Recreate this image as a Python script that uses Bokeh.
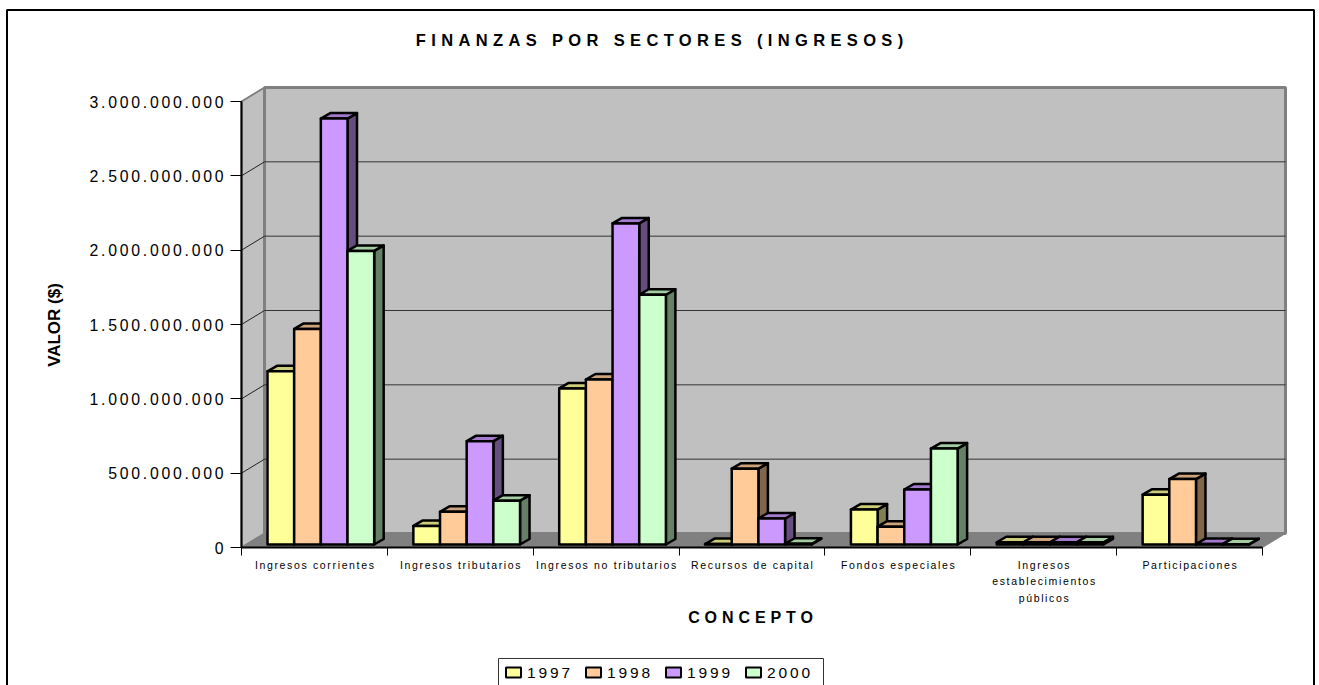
from bokeh.core.properties import value
from bokeh.document import Document
from bokeh.embed import file_html
from bokeh.models import CustomJS, FixedTicker
from bokeh.plotting import figure
from bokeh.resources import INLINE

categories = ["Ingresos corrientes", "Ingresos tributarios", "Ingresos no tributarios", "Recursos de capital",
              "Fondos especiales", "Ingresos\nestablecimientos\npúblicos", "Participaciones"]
series_names = ["1997", "1998", "1999", "2000"]
v1997 = [1165e6, 125e6, 1050e6, 3e6, 235e6, 15e6, 335e6]
v1998 = [1450e6, 220e6, 1110e6, 510e6, 120e6, 15e6, 440e6]
v1999 = [2865e6, 695e6, 2160e6, 175e6, 370e6, 15e6, 3e6]
v2000 = [1975e6, 295e6, 1680e6, 5e6, 645e6, 15e6, 2e6]
series = [v1997, v1998, v1999, v2000]
front = ["#FFFF99", "#FFCC99", "#CC99FF", "#CCFFCC"]
tops = ["#CCCC7A", "#CCA37A", "#A37ACC", "#A3CCA3"]
sides = ["#808050", "#80664D", "#664D80", "#668066"]
y_ticks = [0, 500000000, 1000000000, 1500000000, 2000000000, 2500000000, 3000000000]
y_labels = ["0", "500.000.000", "1.000.000.000", "1.500.000.000", "2.000.000.000", "2.500.000.000", "3.000.000.000"]

# pixel geometry of the page
W, H = 1319, 685
L, B, YTOP = 241, 547, 101
XR = 1262
UX = (XR - L) / 7                     # px per category
UY = (B - YTOP) / 3e9                 # px per value
px = lambda x: (x - L) / UX
py = lambda y: (B - y) / UY
wall_dx, wall_dy = 23 / UX, 14 / UY
bar_dx, bar_dy = 9.5 / UX, 5.5 / UY
base = 3.0 / UY
bar_off, bar_w = 26 / UX, 26.67 / UX

p = figure(width=W, height=H, output_backend="svg", toolbar_location=None,
           x_range=(px(0), px(W)), y_range=(py(H), py(0)),
           min_border=0, outline_line_color=None, background_fill_color="white", border_fill_color="white")
p.grid.visible = False

# outer frame
p.line([px(6.5), px(6.5), px(1313.5), px(1313.5)], [py(720), py(9.5), py(9.5), py(720)], line_color="black", line_width=2)

# walls and floor
p.patch([0, wall_dx, wall_dx, 0], [0, wall_dy, 3e9 + wall_dy, 3e9], fill_color="#C0C0C0", line_color="#808080", line_width=2)
p.patch([wall_dx, 7 + wall_dx, 7 + wall_dx, wall_dx], [wall_dy, wall_dy, 3e9 + wall_dy, 3e9 + wall_dy],
        fill_color="#C0C0C0", line_color="#808080", line_width=3)
p.patch([0, wall_dx, 7 + wall_dx, 7], [0, wall_dy, wall_dy, 0], fill_color="#808080", line_color="#808080")
gv = y_ticks[1:-1]
p.segment([wall_dx] * len(gv), [g + wall_dy for g in gv], [7 + wall_dx] * len(gv), [g + wall_dy for g in gv],
          line_color="#333333", line_width=1)
p.segment([0] * len(gv), gv, [wall_dx] * len(gv), [g + wall_dy for g in gv], line_color="#222222", line_width=1)

for s, vals in enumerate(series):
    fx, fy, tx, ty, sx, sy = [], [], [], [], [], []
    for i, v in enumerate(vals):
        x0 = i + bar_off + s * bar_w
        x1 = x0 + bar_w
        y1 = base + v
        fx.append([x0, x1, x1, x0]); fy.append([base, base, y1, y1])
        tx.append([x0, x1, x1 + bar_dx, x0 + bar_dx]); ty.append([y1, y1, y1 + bar_dy, y1 + bar_dy])
        sx.append([x1, x1 + bar_dx, x1 + bar_dx, x1]); sy.append([base, base + bar_dy, y1 + bar_dy, y1])
    p.patches(sx, sy, fill_color=sides[s], line_color="black", line_width=2.5, line_join="round")
    p.patches(tx, ty, fill_color=tops[s], line_color="black", line_width=2.5, line_join="round")
    p.patches(fx, fy, fill_color=front[s], line_color="black", line_width=2.5, line_join="round")

# axes
ya = p.yaxis[0]
ya.fixed_location = 0
ya.ticker = FixedTicker(ticks=y_ticks)
ya.major_label_overrides = dict(zip(y_ticks, y_labels))
ya.bounds = (0, 3e9)
ya.major_tick_in = 0; ya.major_tick_out = 11; ya.minor_tick_line_color = None
ya.major_label_standoff = 7
ya.major_label_text_font = "Liberation Sans"; ya.major_label_text_font_size = "15.8px"; ya.major_label_text_color = "black"
ya.axis_line_width = 2

xa = p.xaxis[0]
xa.fixed_location = 0
centers = [i + 0.5 for i in range(7)]
xa.ticker = FixedTicker(ticks=centers, minor_ticks=list(range(8)))
xa.major_label_overrides = dict(zip(centers, categories))
xa.bounds = (0, 7)
xa.major_tick_in = 0; xa.major_tick_out = 0
xa.major_tick_line_color = None
xa.minor_tick_in = 0; xa.minor_tick_out = 8; xa.minor_tick_line_color = "black"
xa.major_label_standoff = 3
xa.major_label_orientation = "horizontal"
xa.major_label_text_font = "Liberation Sans"; xa.major_label_text_font_size = "10.5px"; xa.major_label_text_color = "black"
xa.major_label_text_line_height = 1.4
xa.axis_line_width = 2

arial = value("Liberation Sans")
p.text([px(659)], [py(39)], text=["FINANZAS POR SECTORES (INGRESOS)"], text_font=arial, text_font_size="16.5px",
       text_font_style="bold", text_color="black", text_align="center", text_baseline="middle")
p.text([px(750)], [py(617)], text=["CONCEPTO"], text_font=arial, text_font_size="16px",
       text_font_style="bold", text_color="black", text_align="center", text_baseline="middle")
p.text([px(54)], [py(324.5)], text=["VALOR ($)"], text_font=arial, text_font_size="17px", angle=1.5708,
       text_font_style="bold", text_color="black", text_align="center", text_baseline="middle")

# legend
p.line([px(498), px(498), px(823), px(823)], [py(700), py(658), py(658), py(700)], line_color="#333333", line_width=1)
for s, name in enumerate(series_names):
    lx = 505.5 + 80 * s
    p.patch([px(lx), px(lx + 15), px(lx + 15), px(lx)], [py(677), py(677), py(667), py(667)],
            fill_color=front[s], line_color="black", line_width=2)
    p.text([px(lx + 21)], [py(672)], text=[name], text_font=arial, text_font_size="15.5px", text_color="black",
           text_align="left", text_baseline="middle")

# letter spacing of the texts, by font: [spacing, share of the extra width moved to the left]
spacing_js = """
const sp = {'16.5px':[5.35,.5],'15.8px':[2.75,1],'10.5px':[1.65,.5],'16px':[4.9,.5],'15.5px':[2.9,0]};
function walk(root){
  root.querySelectorAll('*').forEach(el=>{
    if(el.shadowRoot) walk(el.shadowRoot);
    if(el.tagName==='text'){
      const s = sp[el.getAttribute('font-size')];
      if(s!==undefined){
        el.style.letterSpacing = s[0]+'px';
        el.setAttribute('dx', -s[1]*s[0]*(el.textContent.length-1));
      }
    }
  });
}
[0,100,300,600,1000,2000,3000].forEach(t=>setTimeout(()=>walk(document),t));
"""
doc = Document()
doc.add_root(p)
doc.js_on_event("document_ready", CustomJS(code=spacing_js))

open("out.html", "w").write(file_html(p, INLINE))
